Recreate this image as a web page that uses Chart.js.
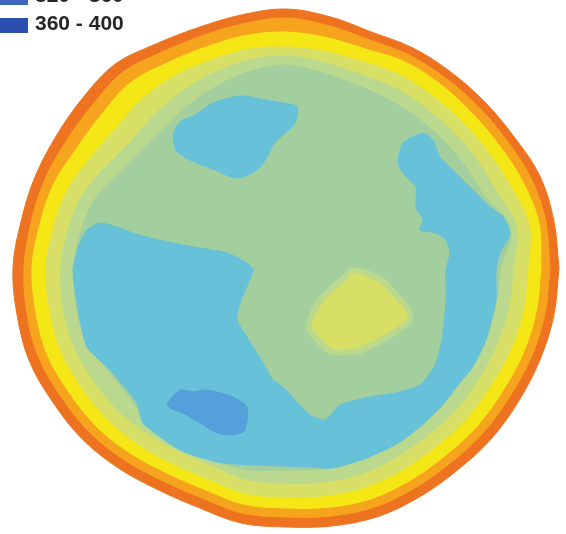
<!DOCTYPE html>
<html>
<head>
<meta charset="utf-8">
<title>Zone map</title>
<script src="https://cdn.jsdelivr.net/npm/chart.js@4.4.0/dist/chart.umd.min.js"></script>
<style>
    html, body { margin: 0; padding: 0; background: #ffffff; }
    #wrap { position: relative; width: 566px; height: 534px; overflow: hidden; }
</style>
</head>
<body>
<div id="wrap"><canvas id="zoneChart" width="566" height="534"></canvas></div>
<script>
// Value classes of the map legend
const classLabels = ['0 - 40', '40 - 80', '80 - 120', '120 - 160', '160 - 200',
                     '200 - 240', '240 - 280', '280 - 320', '320 - 360', '360 - 400'];
const classColors = ['#ee7320', '#f6a31e', '#f5e616', '#d7df66', '#bad88e',
                     '#a3cf9f', '#67c1d9', '#559fda', '#3c66bd', '#2b4fae'];

// Concentric zone borders, radius at each bearing (degrees, map units)
const ringAngles = [0, 10, 20, 30, 40, 50, 60, 70, 80, 90, 100, 110, 120, 130, 140, 150, 160, 170,
                    180, 190, 200, 210, 220, 230, 240, 250, 260, 270, 280, 290, 300, 310, 320, 330, 340, 350];
const zone0Radius = [273, 272, 270, 263, 259, 256, 254, 251, 255, 259, 257, 256, 259, 266, 265, 265, 267, 269,
                     273, 273, 273, 269, 266, 261, 256, 255, 259, 259, 262, 265, 265, 265, 267, 268, 270, 272];
const zone1Radius = [264, 264, 261, 255, 251, 248, 246, 243, 246, 250, 248, 247, 249, 255, 253, 254, 257, 259,
                     262, 263, 263, 259, 256, 251, 246, 245, 249, 249, 252, 255, 255, 255, 257, 258, 261, 263];
const zone2Radius = [255, 257, 252, 246, 242, 240, 238, 233, 234, 236, 236, 235, 237, 242, 240, 241, 247, 250,
                     254, 254, 254, 250, 247, 242, 237, 236, 240, 240, 243, 246, 246, 246, 248, 249, 252, 254];
const zone3Radius = [242, 247, 239, 233, 229, 226, 224, 220, 220, 221, 222, 221, 222, 222, 220, 224, 232, 236,
                     240, 240, 240, 237, 234, 230, 226, 225, 229, 229, 231, 233, 233, 233, 235, 236, 239, 241];
const zone4Radius = [227, 234, 224, 219, 215, 212, 210, 207, 209, 212, 211, 208, 205, 202, 200, 206, 216, 221,
                     225, 226, 226, 223, 220, 216, 212, 211, 215, 215, 217, 219, 219, 219, 221, 222, 224, 226];
const zone5Radius = [214, 228, 211, 206, 202, 199, 197, 196, 199, 203, 200, 195, 190, 186, 186, 192, 203, 208,
                     212, 213, 213, 205, 203, 209, 208, 206, 205, 202, 204, 206, 206, 206, 208, 209, 211, 213];

// Inner patches, outline vertices [east, north] in map units
const blueMain = [[-208, 21], [-199, 38], [-186, 45], [-169, 41], [-153, 35], [-136, 30], [-113, 25], [-86, 20],
    [-59, 15], [-39, 5], [-33, -2], [-46, -35], [-49, -52], [-39, -69], [-23, -95], [-13, -112], [-3, -119],
    [12, -135], [24, -147], [39, -152], [54, -137], [79, -130], [109, -125], [134, -117], [149, -97], [156, -72],
    [160, -32], [160, -2], [164, 15], [160, 28], [150, 35], [134, 38], [137, 48], [130, 61], [130, 81], [120, 91],
    [112, 105], [117, 125], [137, 135], [147, 128], [154, 111], [170, 95], [184, 81], [204, 61], [217, 51],
    [224, 35], [214, 15], [210, -2], [210, -32], [200, -72], [186, -100], [170, -119], [155, -139], [136, -157],
    [114, -174], [81, -190], [47, -200], [21, -199], [-3, -198], [-36, -197], [-69, -194], [-106, -182],
    [-143, -155], [-149, -135], [-176, -102], [-199, -79], [-209, -35], [-213, -2]];
const blueNorth = [[-113, 133], [-106, 146], [-91, 153], [-73, 165], [-46, 172], [-26, 169], [-3, 165], [11, 161],
    [9, 145], [-3, 133], [-13, 123], [-19, 111], [-29, 98], [-49, 90], [-71, 98], [-96, 108], [-110, 118]];
const bluePatch = [[-119, -135], [-106, -122], [-93, -124], [-79, -122], [-53, -129], [-39, -139], [-41, -162],
    [-53, -167], [-69, -165], [-86, -155], [-103, -145], [-116, -140]];
const centreRim = [[21, -54], [28, -36], [40, -22], [57, -7], [65, 0], [80, -2], [98, -10], [109, -22], [124, -40],
    [126, -53], [114, -64], [96, -75], [75, -85], [54, -87], [40, -84], [29, -73], [21, -63]];
const centrePatch = [[27, -52], [34, -39], [44, -27], [61, -12], [66, -5], [77, -7], [94, -15], [104, -25],
    [119, -42], [121, -50], [111, -59], [94, -69], [74, -79], [54, -82], [44, -79], [34, -69], [27, -62]];

function ringPoints(radii) {
    const pts = ringAngles.map((a, i) => {
        const t = a * Math.PI / 180;
        return { x: radii[i] * Math.cos(t), y: radii[i] * Math.sin(t) };
    });
    pts.push(pts[0]);
    return pts;
}

function outlinePoints(list) {
    const pts = list.map(p => ({ x: p[0], y: p[1] }));
    pts.push(pts[0]);
    return pts;
}

// Bottom to top
const layers = [
    { cls: 0, pts: ringPoints(zone0Radius), smooth: 0.35 },
    { cls: 1, pts: ringPoints(zone1Radius), smooth: 0.35 },
    { cls: 2, pts: ringPoints(zone2Radius), smooth: 0.35 },
    { cls: 3, pts: ringPoints(zone3Radius), smooth: 0.35 },
    { cls: 4, pts: ringPoints(zone4Radius), smooth: 0.35 },
    { cls: 5, pts: ringPoints(zone5Radius), smooth: 0.35 },
    { cls: 6, pts: outlinePoints(blueMain), smooth: 0.2 },
    { cls: 6, pts: outlinePoints(blueNorth), smooth: 0.3 },
    { cls: 7, pts: outlinePoints(bluePatch), smooth: 0.2 },
    { cls: 4, pts: outlinePoints(centreRim), smooth: 0.3 },
    { cls: 3, pts: outlinePoints(centrePatch), smooth: 0.2 }
];

// Legend, last classes only; the rest sit above the picture
const classLegend = {
    id: 'classLegend',
    afterDraw(chart) {
        const ctx = chart.ctx;
        const last = classLabels.length - 1;
        ctx.save();
        ctx.font = 'bold 21px "Liberation Sans", Arial, sans-serif';
        ctx.textBaseline = 'alphabetic';
        classLabels.forEach((label, i) => {
            const top = 18 - (last - i) * 28;
            ctx.fillStyle = classColors[i];
            ctx.fillRect(0, top, 28, 15);
            ctx.fillStyle = '#262626';
            ctx.fillText(label, 35, top + 11.5);
        });
        ctx.restore();
    }
};

const chart = new Chart(document.getElementById('zoneChart'), {
    type: 'scatter',
    data: {
        datasets: layers.map((layer, i) => ({
            label: classLabels[layer.cls],
            data: layer.pts,
            showLine: true,
            fill: 'shape',
            tension: layer.smooth,
            indexAxis: 'y',
            backgroundColor: classColors[layer.cls],
            borderColor: classColors[layer.cls],
            borderWidth: 1,
            pointRadius: 0,
            pointHoverRadius: 0,
            order: layers.length - i
        }))
    },
    options: {
        responsive: false,
        animation: false,
        indexAxis: 'y',
        events: [],
        layout: { padding: 0 },
        scales: {
            x: { type: 'linear', min: -286, max: 280, display: false },
            y: { type: 'linear', min: -266, max: 268, display: false }
        },
        plugins: {
            legend: { display: false },
            tooltip: { enabled: false }
        }
    },
    plugins: [classLegend]
});
</script>
</body>
</html>
